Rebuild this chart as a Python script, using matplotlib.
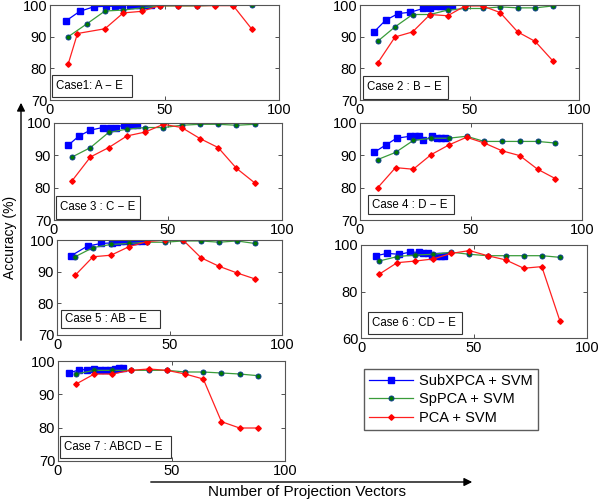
import matplotlib
matplotlib.use("Agg")
import matplotlib.pyplot as plt

plt.rcParams['font.family'] = ['Liberation Sans', 'DejaVu Sans']

# x positions shared by SpPCA / PCA curves
x_std = [8, 16, 24, 32, 40, 48, 56, 64, 72, 80, 88]

# Case 1 : A - E
c1_bx = [7, 13, 19, 24.5, 28.5, 31.5, 35, 37, 39, 41.5, 44]
c1_b = [95, 98, 99.4, 99.6, 99.6, 100, 100, 100, 100, 100, 100]
c1_g = [90, 94, 98.1, 98.4, 99.1, 99.7, 99.7, 99.7, 99.9, 99.9, 99.9]
c1_rx = [8, 12, 24, 32, 40, 48, 56, 64, 72, 80, 88]
c1_r = [81.5, 91, 92.5, 97.5, 98, 99.8, 99.8, 99.8, 99.8, 99.8, 92.5]

# Case 2 : B - E
c2_bx = [6.4, 11.7, 17.5, 22.8, 28.9, 32, 34.5, 36.5, 38, 40, 42]
c2_b = [91.5, 95.2, 97.3, 97.7, 98.9, 99.1, 99.7, 99.7, 99.7, 99.7, 99.7]
c2_g = [88.5, 93.1, 97, 97, 98.4, 98.9, 98.9, 99.4, 99.1, 99.1, 99.7]
c2_r = [81.6, 89.9, 91.5, 97, 96.6, 99.7, 99.7, 97.6, 91.5, 88.5, 82.4]

# Case 3 : C - E
c3_bx = [6.2, 11, 16, 21.3, 24.5, 27.4, 30.8, 32.6, 34.5, 36.2]
c3_b = [93.1, 96, 97.8, 98.6, 98.6, 98.6, 99.5, 99.5, 99.5, 99.5]
c3_g = [89.5, 92.4, 97.1, 98.1, 98.6, 98.6, 99.3, 99.6, 99.6, 99.3, 99.6]
c3_r = [82.2, 89.5, 92.4, 96, 97.2, 99.6, 98.6, 95.2, 92.4, 86, 81.5]

# Case 4 : D - E
c4_bx = [6.3, 11.6, 16.5, 22.6, 24.8, 26.8, 28.6, 32.6, 34.6, 36.5, 38.3]
c4_b = [90.9, 93.2, 95.3, 95.9, 95.9, 95.9, 94.6, 95.9, 95.3, 95.3, 95.3]
c4_g = [88.7, 90.9, 94.6, 95.3, 95.3, 95.9, 94.3, 94.3, 94.3, 94.3, 93.8]
c4_r = [80, 86.2, 85.7, 90.2, 93.2, 95.6, 93.8, 91.4, 89.9, 85.7, 82.8]

# Case 5 : AB - E
c5_bx = [6.2, 13.6, 19.6, 24.4, 26.7, 28.4, 30.4, 32.3, 33.8, 35.6, 37.8]
c5_b = [95, 98.1, 98.9, 99.1, 99.5, 99.8, 99.8, 99.8, 99.8, 99.8, 99.8]
c5_g = [94.7, 97.6, 98.6, 98.9, 99.3, 99.3, 99.7, 99.7, 99.3, 99.7, 98.9]
c5_r = [88.8, 94.7, 95.2, 97.9, 99.5, 100, 100, 94.4, 91.7, 89.6, 87.7]

# Case 6 : CD - E
c6_bx = [6.6, 11.7, 16.8, 21.7, 25.7, 27.6, 29.5, 31.6, 33.5, 35.5, 36.8]
c6_b = [95.4, 96.4, 96, 96.9, 96.9, 96.4, 96.4, 95.4, 95.4, 95.4, 95.4]
c6_g = [93.1, 95, 95.7, 96, 96.9, 96, 95.4, 95.4, 95.4, 95.4, 94.7]
c6_r = [87.4, 92.4, 93.1, 94, 96.4, 97.6, 95.4, 93.6, 90, 90.7, 67.4]

# Case 7 : ABCD - E
c7_bx = [5, 9.4, 12.6, 16, 18.5, 20.7, 22.9, 25.1, 27, 28.5]
c7_b = [96.4, 97.4, 97.4, 97.6, 97.4, 97.4, 97.4, 97.6, 97.9, 97.9]
c7_g = [96.1, 97.2, 97.2, 97.2, 97.2, 97.2, 96.7, 96.7, 96.4, 96.1, 95.6]
c7_r = [93.1, 96.1, 96.1, 97.2, 97.6, 97.2, 96.1, 94.6, 81.8, 79.9, 79.9]

cases = [
    ("Case1: A \u2212 E", c1_bx, c1_b, x_std, c1_g, c1_rx, c1_r, (70, 100)),
    ("Case 2 : B \u2212 E", c2_bx, c2_b, x_std, c2_g, x_std, c2_r, (70, 100)),
    ("Case 3 : C \u2212 E", c3_bx, c3_b, x_std, c3_g, x_std, c3_r, (70, 100)),
    ("Case 4 : D \u2212 E", c4_bx, c4_b, x_std, c4_g, x_std, c4_r, (70, 100)),
    ("Case 5 : AB \u2212 E", c5_bx, c5_b, x_std, c5_g, x_std, c5_r, (70, 100)),
    ("Case 6 : CD \u2212 E", c6_bx, c6_b, x_std, c6_g, x_std, c6_r, (60, 100)),
    ("Case 7 : ABCD \u2212 E", c7_bx, c7_b, x_std, c7_g, x_std, c7_r, (70, 100)),
]

# axes boxes in pixels (left, top, right, bottom), case label box (x0, y0, x1, y1)
W, H = 600, 499
boxes = [
    (50, 5, 279, 100), (360, 5, 579, 100),
    (54, 123, 282, 220), (360, 123, 582, 220),
    (57, 240, 282, 335), (361, 245, 587, 338),
    (58, 361, 285, 461),
]
label_boxes = [
    (52, 75, 132, 97), (363, 76, 448, 99),
    (56, 196, 140, 219), (368, 195, 454, 214),
    (61, 310, 160, 328), (368, 312, 462, 334),
    (60, 436, 171, 458),
]

fig = plt.figure(figsize=(6, 4.99), dpi=100)

lines = None
for (title, bx, b, gx, g, rx, r, ylim), (l, t, rr, bt), lb in zip(cases, boxes, label_boxes):
    ax = fig.add_axes([l / W, 1 - bt / H, (rr - l) / W, (bt - t) / H])
    lb_ = ax.plot(bx, b, '-s', color='#0000ff', lw=0.9, ms=3.8, mec='#0000ff')[0]
    lg_ = ax.plot(gx, g, '-o', color='#3a9c3a', lw=0.9, ms=3.6, mfc='#007a00', mec='#0a3a8a',
                  mew=0.7)[0]
    lr_ = ax.plot(rx, r, '-D', color='#ff2020', lw=0.9, ms=2.8, mfc='#ff0000', mec='#ff0000')[0]
    lines = (lb_, lg_, lr_)
    ax.set_xlim(0, 100)
    ax.set_ylim(*ylim)
    ax.set_xticks([0, 50, 100])
    if ylim[0] == 60:
        ax.set_yticks([60, 80, 100])
    else:
        ax.set_yticks([70, 80, 90, 100])
    ax.tick_params(direction='in', length=3, labelsize=10.5, top=True, right=True,
                   width=0.6, pad=2, colors='#333333', labelcolor='black')
    for s in ax.spines.values():
        s.set_color('#555555')
        s.set_linewidth(0.8)
    # case label box
    x0, y0, x1, y1 = lb
    fig.patches.append(plt.Rectangle((x0 / W, 1 - y1 / H), (x1 - x0) / W, (y1 - y0) / H,
                                     transform=fig.transFigure, fill=True, fc='white',
                                     ec='#333333', lw=0.8, zorder=5))
    fig.text((x0 + 4) / W, 1 - (y0 + y1) / 2 / H, title, fontsize=8.3,
             va='center', ha='left', zorder=6)

fig.legend(lines, ["SubXPCA + SVM", "SpPCA + SVM", "PCA + SVM"],
           loc='upper left', bbox_to_anchor=(364 / W, 1 - 369 / H),
           fontsize=10.5, frameon=True, fancybox=False, edgecolor='#333333',
           borderpad=0.35, labelspacing=0.3, handlelength=3.0, handletextpad=0.4,
           borderaxespad=0)

# vertical arrow + label
fig.add_artist(matplotlib.patches.FancyArrowPatch(
    (21 / W, 1 - 343 / H), (21 / W, 1 - 100 / H), transform=fig.transFigure,
    arrowstyle='-|>', mutation_scale=12, color='black', lw=1))
fig.text(10 / W, 1 - 237 / H, "Accuracy (%)", rotation=90, fontsize=10,
         va='center', ha='center', bbox=dict(fc='white', ec='none', pad=1))

# horizontal arrow + label
fig.add_artist(matplotlib.patches.FancyArrowPatch(
    (148 / W, 1 - 482 / H), (475 / W, 1 - 482 / H), transform=fig.transFigure,
    arrowstyle='-|>', mutation_scale=12, color='black', lw=1))
fig.text(307 / W, 1 - 492 / H, "Number of Projection Vectors", fontsize=11,
         va='center', ha='center')

fig.savefig("out.png", dpi=100)
